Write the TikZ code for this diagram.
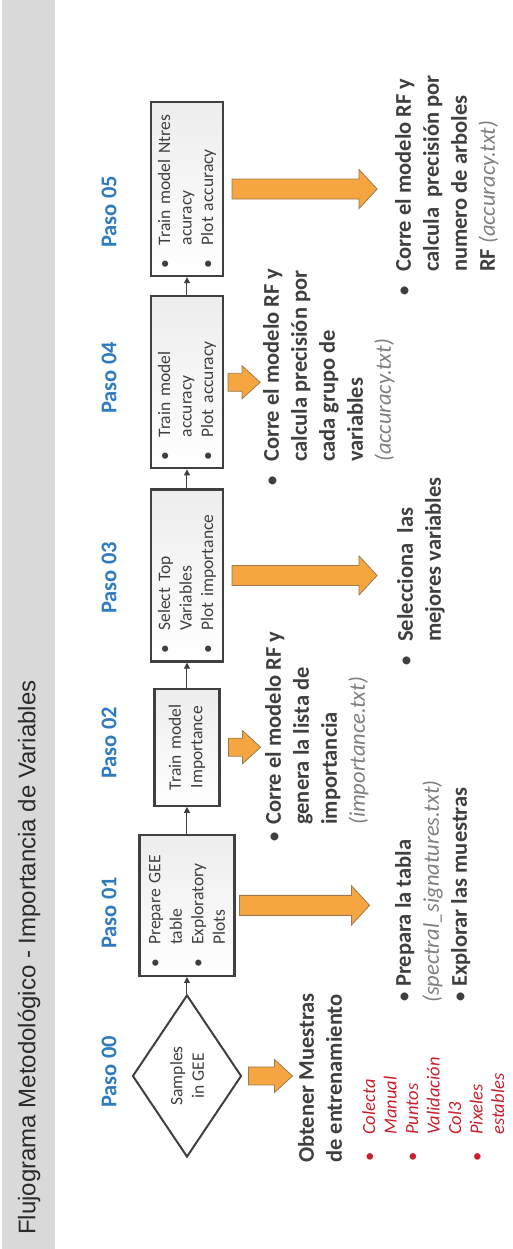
\documentclass[tikz,border=0pt]{standalone}
\usepackage{fontspec}
\setmainfont{Carlito}
\newfontfamily\titlefont{Liberation Sans}
\usepackage{xcolor}
\definecolor{BarGray}{HTML}{D9D9D9}
\definecolor{TitleGray}{HTML}{2B2B2B}
\definecolor{TextGray}{HTML}{3F3F3F}
\definecolor{NoteGray}{HTML}{7F7F7F}
\definecolor{BoxLine}{HTML}{404040}
\definecolor{PasoBlue}{HTML}{2E7BBF}
\definecolor{ArrowOrange}{HTML}{F5A640}
\definecolor{ArrowEdge}{HTML}{9C7A4E}
\definecolor{NoteRed}{HTML}{C8202C}
\usepackage{tikz}
\usetikzlibrary{arrows.meta,positioning,calc,shapes.geometric}

\newcommand{\bodyfont}{\fontsize{22.5}{28}\selectfont}
\newcommand{\boxfont}{\fontsize{17.5}{21.5}\selectfont}
\newcommand{\notefont}{\fontsize{18.5}{21.5}\selectfont\itshape}
\newcommand{\bitem}[1][25pt]{\makebox[#1][l]{\textnormal{\textbullet}}}
\newcommand{\bcont}[1][25pt]{\hspace*{#1}}
\newcommand{\fname}[1]{{\mdseries\itshape\color{NoteGray}#1}}
\newcommand{\blockarrow}[5]{%
  \draw[bigarr] ($(#1.south)+(-#4,-#2)$) -- ++(0,{18-#3}) -- ++({#4-#5},0)
    -- ++(#5,-18) -- ++(#5,18) -- ++({#4-#5},0) -- ++(0,{#3-18}) -- cycle;}

\begin{document}
\begin{tikzpicture}[
  x=1pt,y=1pt,
  decision/.style={diamond,draw=BoxLine,line width=2pt,fill=white,inner sep=0pt,minimum width=162pt,minimum height=109pt,align=center,font=\boxfont,text=TextGray},
  stepbox/.style={rectangle,draw=BoxLine,line width=2.2pt,top color=gray!14,bottom color=white,inner xsep=8pt,inner ysep=0pt,font=\boxfont,text=TextGray,align=left},
  pasolabel/.style={font=\bodyfont\bfseries,text=PasoBlue},
  bodytext/.style={anchor=north west,inner sep=0pt,align=left,font=\bodyfont\bfseries,text=TextGray},
  notetext/.style={anchor=north west,inner sep=0pt,align=left,font=\notefont,text=NoteRed},
  flowarr/.style={-{Triangle[length=6pt,width=6pt]},line width=1pt,draw=BoxLine},
  bigarr/.style={fill=ArrowOrange,draw=ArrowEdge,line width=0.8pt,line join=miter}
]
\begin{scope}[rotate=90,transform shape]
  \useasboundingbox (0,0) rectangle (1249,512);
  \fill[BarGray] (0,457) rectangle (1249,510);
  \node[anchor=west,inner sep=0pt,font=\titlefont\fontsize{24}{28}\selectfont,text=TitleGray] (title) at (14,483) {Flujograma Metodológico - Importancia de Variables};

  \node[pasolabel] (p00) at (177,403) {Paso 00};
  \node[pasolabel] (p01) at (336,403) {Paso 01};
  \node[pasolabel] (p02) at (506,403) {Paso 02};
  \node[pasolabel] (p03) at (671,403) {Paso 03};
  \node[pasolabel] (p04) at (871,403) {Paso 04};
  \node[pasolabel] (p05) at (1037,403) {Paso 05};

  \node[decision] (d00) at (173,325) {Samples\\in GEE};
  \node[stepbox,text width=125pt,minimum height=95pt,right=17pt of d00] (b01) {\bitem[23pt]Prepare GEE\\\bcont[23pt]table\\\bitem[23pt]Exploratory\\\bcont[23pt]Plots};
  \node[stepbox,text width=101pt,minimum height=65pt,align=center,right=27pt of b01] (b02) {Train model\\Importance};
  \node[stepbox,text width=156pt,minimum height=72pt,right=25pt of b02] (b03) {\bitem[23pt]Select Top\\\bcont[23pt]Variables\\\bitem[23pt]Plot importance};
  \node[stepbox,text width=156pt,minimum height=72pt,right=19pt of b03] (b04) {\bitem[23pt]Train model\\\bcont[23pt]accuracy\\\bitem[23pt]Plot accuracy};
  \node[stepbox,text width=158pt,minimum height=72pt,right=18pt of b04] (b05) {\bitem[23pt]Train model Ntres\\\bcont[23pt]acuracy\\\bitem[23pt]Plot accuracy};

  \draw[flowarr] (d00) -- (b01);
  \draw[flowarr] (b01) -- (b02);
  \draw[flowarr] (b02) -- (b03);
  \draw[flowarr] (b03) -- (b04);
  \draw[flowarr] (b04) -- (b05);

  \blockarrow{d00}{6}{44}{9}{16.5}
  \blockarrow{b01}{4}{130}{10}{19.5}
  \blockarrow{b02}{8}{32}{9}{16.5}
  \blockarrow{b03}{8}{145}{10}{19.5}
  \blockarrow{b04}{4}{32}{9}{16.5}
  \blockarrow{b05}{8}{145}{10}{19.5}

  \node[bodytext] (t00) at (86,214) {Obtener Muestras\\de entrenamiento};
  \node[notetext] (n00) at (87,150) {\bitem[27pt]Colecta\\\bcont[27pt]Manual\\\bitem[27pt]Puntos\\\bcont[27pt]Validación\\\bcont[27pt]Col3\\\bitem[27pt]Pixeles\\\bcont[27pt]estables};
  \node[bodytext] (t01) at (246,117) {\bitem[16pt]Prepara la tabla\\\fname{(spectral\_signatures.txt)}\\\bitem[16pt]Explorar las muestras};
  \node[bodytext] (t02) at (406,247) {\bitem[18pt]Corre el modelo RF y\\\bcont[18pt]genera la lista de\\\bcont[18pt]importancia\\\bcont[18pt]\fname{(importance.txt)}};
  \node[bodytext] (t03) at (582,115) {\bitem Selecciona\ \ las\\\bcont mejores variables};
  \node[bodytext] (t04) at (762,249) {\bitem Corre el modelo RF y\\\bcont calcula precisión por\\\bcont cada grupo de\\\bcont variables\\\bcont\fname{(accuracy.txt)}};
  \node[bodytext] (t05) at (952,117) {\bitem Corre el modelo RF y\\\bcont calcula\ \ precisión por\\\bcont numero de arboles\\\bcont RF \fname{(accuracy.txt)}};
\end{scope}
\end{tikzpicture}
\end{document}
